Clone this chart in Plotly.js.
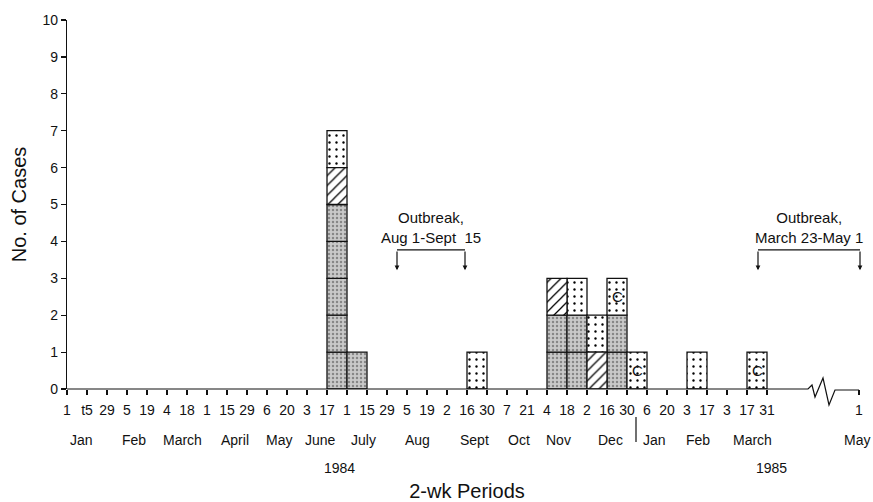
<!DOCTYPE html>
<html><head><meta charset="utf-8">
<script src="https://cdn.plot.ly/plotly-3.0.1.min.js"></script>
<style>html,body{margin:0;padding:0;background:#fff}#chart{width:873px;height:502px}</style>
</head><body><div id="chart"></div>
<script>
// ---- data ----
const periodTickLabels = ['1','t5','29','5','19','4','18','1','15','29','6','20','3','17','1','15','29','5','19','2','16','30','7','21','4','18','2','16','30','6','20','3','17','3','17','31'];
const endTickLabel = '1';
const endTickPos = 39.6;           // after the axis break
const monthLabels = ['Jan','Feb','March','April','May','June','July','Aug','Sept','Oct','Nov','Dec','Jan','Feb','March','May'];
const monthPos = [0.7,3.35,5.75,8.4,10.6,12.65,14.8,17.5,20.35,22.6,24.55,27.15,29.35,31.55,34.25,39.99];
const yearLabels = ['1984','1985'];
const yearPos = [13.6,35.2];
const yearBreakPos = 28.45;
// one entry per case: 2-wk period index (bar spans index..index+1), pattern type, mark
const casePeriod = [13,13,13,13,13,13,13,14,20,24,24,24,25,25,25,26,26,27,27,27,28,31,34];
const caseType   = ['D','D','D','D','D','H','S','D','S','D','D','H','D','D','S','H','S','D','D','S','S','S','S'];
const caseMark   = ['','','','','','','','','','','','','','','','','','','','C','C','','C'];
const outbreakText  = ['Outbreak,<br>Aug 1-Sept  15','Outbreak,<br>March 23-May 1'];
const outbreakStart = [16.5,34.55];
const outbreakEnd   = [19.9,39.65];

// ---- build ----
const XMAX = 40, YMAX = 10;
const levels = {}; const caseLevel = casePeriod.map(p => { const l = levels[p] || 0; levels[p] = l + 1; return l; });
const styles = {
  D: {color: '#c9c9c9', pattern: {fillmode: 'overlay', shape: '.', size: 4, solidity: 0.3, fgcolor: '#444'}},
  S: {color: '#fff', pattern: {fillmode: 'replace', shape: '.', size: 7, solidity: 0.09, fgcolor: '#000', bgcolor: '#fff'}},
  H: {color: '#fff', pattern: {fillmode: 'replace', shape: '/', size: 7, solidity: 0.18, fgcolor: '#000', bgcolor: '#fff'}}
};
const traces = Object.keys(styles).map(t => {
  const idx = caseType.map((c, i) => c === t ? i : -1).filter(i => i >= 0);
  return {
    type: 'bar', x: idx.map(i => casePeriod[i] + 0.5), y: idx.map(() => 1), base: idx.map(i => caseLevel[i]),
    width: 1, marker: {color: styles[t].color, line: {color: '#111', width: 1.3}, pattern: styles[t].pattern},
    hoverinfo: 'skip', showlegend: false
  };
});

const H = 369, PB = 389; // plot height, bottom pixel
const pyToPaper = py => (PB - py) / H;
const font = {family: 'Liberation Sans, Arial, sans-serif', color: '#111'};
const annotations = [];
monthLabels.forEach((m, i) => {
  const last = i === monthLabels.length - 1;
  annotations.push({text: m, x: monthPos[i], xref: 'x', y: pyToPaper(440), yref: 'paper', showarrow: false,
    font: Object.assign({size: 14}, font), xanchor: last ? 'right' : 'center', xshift: last ? 5 : 0, yanchor: 'middle'});
});
yearLabels.forEach((m, i) => annotations.push({text: m, x: yearPos[i], xref: 'x', y: pyToPaper(468), yref: 'paper', showarrow: false, font: Object.assign({size: 14}, font), xanchor: 'center', yanchor: 'middle'}));
casePeriod.forEach((p, i) => { if (caseMark[i]) annotations.push({text: caseMark[i], x: p + 0.5, y: caseLevel[i] + 0.5, xref: 'x', yref: 'y', showarrow: false, font: Object.assign({size: 15}, font)}); });
const shapes = [];
const bracketY = 3.77, tipY = 3.22, textY = 4.39;
outbreakText.forEach((t, i) => {
  annotations.push({text: t, x: (outbreakStart[i] + outbreakEnd[i]) / 2, y: textY, xref: 'x', yref: 'y', showarrow: false, font: Object.assign({size: 15}, font), align: 'center'});
  [outbreakStart[i], outbreakEnd[i]].forEach(xv => annotations.push({x: xv, y: tipY, ax: xv, ay: bracketY, xref: 'x', yref: 'y', axref: 'x', ayref: 'y', text: '', showarrow: true, arrowhead: 2, arrowsize: 0.8, arrowwidth: 1.2, arrowcolor: '#111'}));
  shapes.push({type: 'line', xref: 'x', yref: 'y', x0: outbreakStart[i], x1: outbreakEnd[i], y0: bracketY, y1: bracketY, line: {color: '#111', width: 1.2}});
});
// x-axis baseline with break
const px = v => v / XMAX;
const zig = [[0,0],[37.05,0],[37.25,4],[37.4,-8],[37.8,11],[38.1,-16],[38.4,-1],[endTickPos,-1]];
shapes.push({type: 'path', xref: 'paper', yref: 'paper', path: 'M' + zig.map(p => px(p[0]) + ',' + (p[1] / H)).join(' L'), line: {color: '#111', width: 1.2}});
shapes.push({type: 'line', xref: 'paper', yref: 'paper', x0: px(yearBreakPos), x1: px(yearBreakPos), y0: pyToPaper(417), y1: pyToPaper(442), line: {color: '#111', width: 1.2}});

const layout = {
  width: 873, height: 502, margin: {l: 67, r: 6, t: 20, b: 113},
  paper_bgcolor: '#fff', plot_bgcolor: '#fff', barmode: 'overlay', font: font,
  xaxis: {range: [0, XMAX], showgrid: false, zeroline: false, showline: false, ticks: 'outside', ticklen: 5, tickcolor: '#111', tickwidth: 1.2,
    tickvals: periodTickLabels.map((_, i) => i).concat([endTickPos]), ticktext: periodTickLabels.concat([endTickLabel]), tickangle: 0,
    tickfont: Object.assign({size: 14}, font), ticklabelstandoff: 3,
    title: {text: '2-wk Periods', font: Object.assign({size: 20}, font), standoff: 74}, automargin: false},
  yaxis: {range: [0, YMAX], showgrid: false, zeroline: false, showline: true, linecolor: '#111', linewidth: 1.2, ticks: 'outside', ticklen: 5, tickcolor: '#111', tickwidth: 1.2,
    tickvals: [0,1,2,3,4,5,6,7,8,9,10], tickfont: Object.assign({size: 14}, font),
    title: {text: 'No. of Cases', font: Object.assign({size: 20}, font), standoff: 10}, automargin: false},
  annotations: annotations, shapes: shapes
};
Plotly.newPlot('chart', traces, layout, {displayModeBar: false, staticPlot: true});
</script></body></html>
